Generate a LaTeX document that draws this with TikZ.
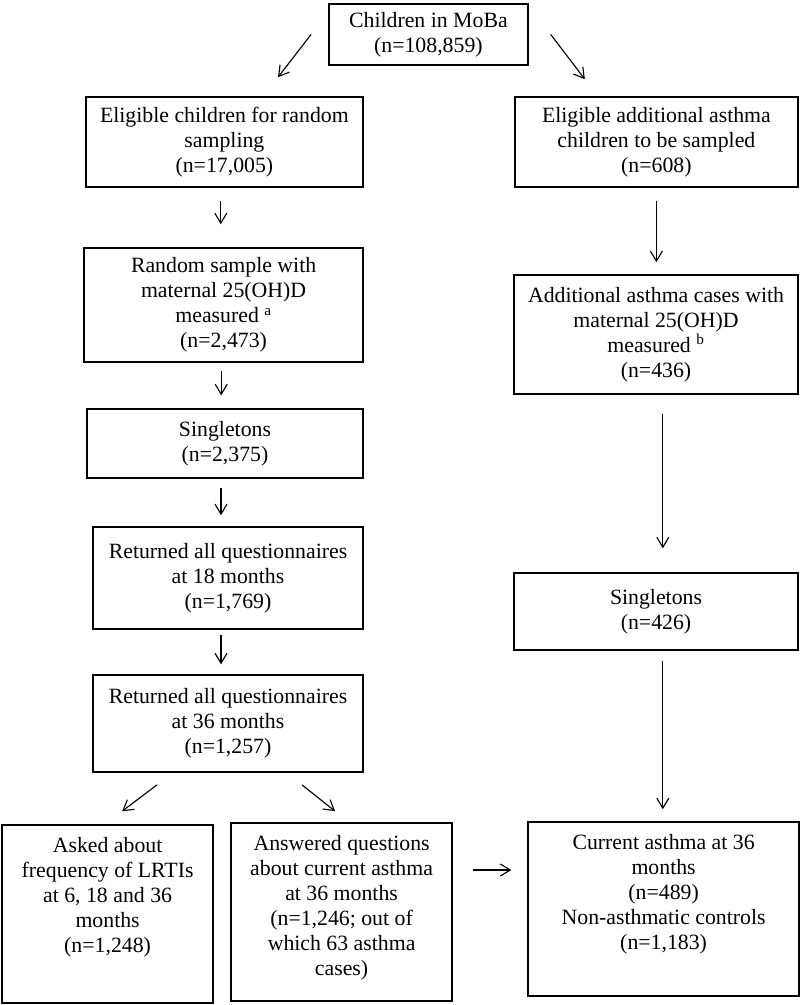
\documentclass[tikz,border=0pt]{standalone}
\usepackage{fontspec}
\setmainfont{Liberation Serif}
\usetikzlibrary{arrows.meta}

\begin{document}
\begin{tikzpicture}
\tikzstyle{box} = [rectangle, draw=black, line width=1.1pt, align=center, font=\fontsize{15.5}{17.8}\selectfont]
\tikzstyle{tallbox} = [box, inner sep=0pt]
\tikzstyle{flow} = [-{Straight Barb[length=0.25cm,width=0.3cm]}, line width=0.8pt]

\useasboundingbox (0,0) rectangle (20,-25.125);

% left column
\node[box, minimum width=4.975cm, minimum height=1.525cm] (moba) at (10.71,-0.86) {Children in MoBa\\(n=108,859)};
\node[box, minimum width=6.925cm, minimum height=2.25cm] (elig) at (5.61,-3.55) {Eligible children for random\\sampling\\(n=17,005)};
\node[box, minimum width=6.975cm, minimum height=2.85cm] (random) at (5.59,-7.625) {Random sample with\\maternal 25(OH)D\\measured \textsuperscript{a}\\(n=2,473)};
\node[box, minimum width=6.9cm, minimum height=1.725cm] (single) at (5.625,-11.09) {Singletons\\(n=2,375)};
\node[box, minimum width=6.75cm, minimum height=2.55cm] (ret18) at (5.7,-14.45) {Returned all questionnaires\\at 18 months\\(n=1,769)};
\node[box, minimum width=6.75cm, minimum height=2.425cm] (ret36) at (5.7,-18.09) {Returned all questionnaires\\at 36 months\\(n=1,257)};

% right column
\node[box, minimum width=7.075cm, minimum height=2.25cm] (eligadd) at (16.41,-3.55) {Eligible additional asthma\\children to be sampled\\(n=608)};
\node[box, minimum width=7.1cm, minimum height=2.975cm] (addcases) at (16.4,-8.36) {Additional asthma cases with\\maternal 25(OH)D\\measured \textsuperscript{b}\\(n=436)};
\node[box, minimum width=7.1cm, minimum height=1.925cm] (singleadd) at (16.4,-15.29) {Singletons\\(n=426)};

% bottom row
\node[tallbox] (asked) at (2.69,-22.85) {\parbox[c][4.45cm][t]{5.275cm}{\centering\vspace*{0.3cm}Asked about\\frequency of LRTIs\\at 6, 18 and 36\\months\\(n=1,248)}};
\node[tallbox] (answered) at (8.54,-22.8) {\parbox[c][4.45cm][t]{5.525cm}{\centering\vspace*{0.3cm}Answered questions\\about current asthma\\at 36 months\\(n=1,246; out of\\which 63 asthma\\cases)}};
\node[tallbox] (current) at (16.59,-22.725) {\parbox[c][4.35cm][t]{6.775cm}{\centering\vspace*{0.3cm}Current asthma at 36\\months\\(n=489)\\Non-asthmatic controls\\(n=1,183)}};

% arrows
\draw[flow] ([xshift=-0.425cm]moba.west) -- ([shift={(1.34,0.475)}]elig.north);
\draw[flow] ([xshift=0.55cm]moba.east) -- ([shift={(-1.79,0.425)}]eligadd.north);
\draw[flow, shorten <=0.325cm, shorten >=0.575cm] ([xshift=-0.09cm]elig.south) -- ([xshift=-0.09cm]elig.south |- random.north);
\draw[flow, shorten <=0.2cm, shorten >=0.325cm] ([xshift=-0.06cm]random.south) -- ([xshift=-0.06cm]random.south |- single.north);
\draw[flow, shorten <=0.225cm, shorten >=0.275cm] ([xshift=-0.1cm]single.south) -- ([xshift=-0.1cm]single.south |- ret18.north);
\draw[flow, shorten <=0.125cm, shorten >=0.25cm] ([xshift=-0.175cm]ret18.south) -- ([xshift=-0.175cm]ret18.south |- ret36.north);
\draw[flow, shorten <=0.325cm, shorten >=0.3cm] (eligadd.south) -- (eligadd.south |- addcases.north);
\draw[flow, shorten <=0.475cm, shorten >=0.6cm] ([xshift=0.17cm]addcases.south) -- ([xshift=0.17cm]addcases.south |- singleadd.north);
\draw[flow, shorten <=0.25cm, shorten >=0.3cm] ([xshift=0.17cm]singleadd.south) -- ([xshift=0.17cm]singleadd.south |- current.north);
\draw[flow] ([shift={(-1.775,-0.3)}]ret36.south) -- ([shift={(0.3625,0.325)}]asked.north);
\draw[flow] ([shift={(1.85,-0.3)}]ret36.south) -- ([shift={(-0.1625,0.275)}]answered.north);
\draw[flow] ([shift={(0.5,1.05)}]answered.east) -- ([shift={(-0.4,0.975)}]current.west);
\end{tikzpicture}
\end{document}
